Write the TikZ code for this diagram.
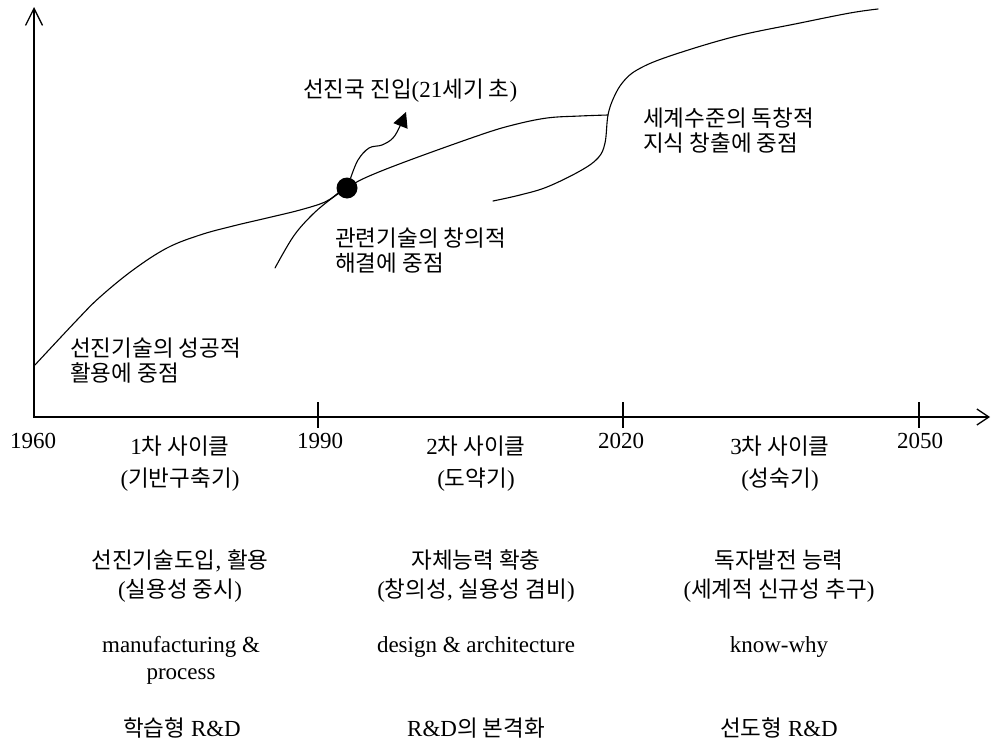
\documentclass[tikz,border=0pt]{standalone}
\usepackage{fontspec}
\setmainfont{Liberation Serif}
\newfontfamily\krfont{Noto Sans CJK KR}
\newcommand\hkr[1]{{\krfont\fontsize{22.5}{26}\selectfont #1}}
\usetikzlibrary{arrows.meta}
\begin{document}
\begin{tikzpicture}[x=1pt,y=-1pt,
  lbl/.style={inner sep=0pt, anchor=base, font=\fontsize{23}{27}\selectfont},
  klbl/.style={inner sep=0pt, anchor=base west, font=\fontsize{23}{27}\selectfont},
  axisline/.style={line width=1.3pt},
  curveline/.style={line width=1.1pt, line cap=round, line join=round},
  tickline/.style={line width=1.1pt}]
\useasboundingbox (0,0) rectangle (991,744);
% axes
\coordinate (O) at (34,417);
\coordinate (ytop) at (34,7);
\coordinate (xend) at (990,417);
\draw[axisline, {Straight Barb[length=17pt,width=17pt]}-{Straight Barb[length=12pt,width=16pt]}] (ytop) -- (O) -- (xend);
\foreach \x in {318,623,919} \draw[tickline] (\x,402) -- (\x,428);
% curves
\draw[curveline] plot[smooth, tension=0.6] coordinates {(34,366) (77,320) (100,297) (133,270) (167,248) (200,235) (233,226) (267,218) (300,210) (325,202) (338,193)};
\draw[curveline] plot[smooth, tension=0.6] coordinates {(275,268) (293,237) (310,217) (327,202) (347,188) (367,177) (410,160) (480,135) (513,125) (547,118) (580,116) (608,115)};
\draw[curveline] plot[smooth, tension=0.6] coordinates {(493,201) (520,195) (547,187) (580,171) (598,158) (605,143) (608,115) (614,97) (623,82) (637,70) (667,57) (733,37) (800,23) (850,13) (878,9)};
\node[circle, fill=black, minimum size=21pt, inner sep=0pt] (dot) at (347,188) {};
\draw[curveline, -{Triangle[length=15pt,width=15pt]}] plot[smooth, tension=0.6] coordinates {(dot.70) (358,160) (369,148) (382,145) (393,138) (400,126) (406,112)};
% upper labels
\node[klbl] (a1) at (70,356) {\hkr{선진기술의 성공적}};
\node[klbl] (a2) at (70,381) {\hkr{활용에 중점}};
\node[klbl] (b1) at (335,246) {\hkr{관련기술의 창의적}};
\node[klbl] (b2) at (335,271) {\hkr{해결에 중점}};
\node[klbl] (c0) at (303,97) {\hkr{선진국 진입}(21\hkr{세기 초})};
\node[klbl] (d1) at (643,126) {\hkr{세계수준의 독창적}};
\node[klbl] (d2) at (643,151) {\hkr{지식 창출에 중점}};
% years
\node[lbl] (y1960) at (33,448) {1960};
\node[lbl] (y1990) at (320,448) {1990};
\node[lbl] (y2020) at (621,448) {2020};
\node[lbl] (y2050) at (920,448) {2050};
% column 1
\node[lbl] (p1a) at (180,454) {1\hkr{차 사이클}};
\node[lbl] (p1b) at (180,486) {(\hkr{기반구축기})};
\node[lbl] (q1a) at (180,568) {\hkr{선진기술도입}, \hkr{활용}};
\node[lbl] (q1b) at (180,597) {(\hkr{실용성 중시})};
\node[lbl] (r1a) at (181,652) {manufacturing \&};
\node[lbl] (r1b) at (181,679) {process};
\node[lbl] (s1) at (182,736) {\hkr{학습형} R\&D};
% column 2
\node[lbl] (p2a) at (476,454) {2\hkr{차 사이클}};
\node[lbl] (p2b) at (476,486) {(\hkr{도약기})};
\node[lbl] (q2a) at (476,568) {\hkr{자체능력 확충}};
\node[lbl] (q2b) at (476,597) {(\hkr{창의성}, \hkr{실용성 겸비})};
\node[lbl] (r2a) at (476,652) {design \& architecture};
\node[lbl] (s2) at (476,736) {R\&D\hkr{의 본격화}};
% column 3
\node[lbl] (p3a) at (780,454) {3\hkr{차 사이클}};
\node[lbl] (p3b) at (780,486) {(\hkr{성숙기})};
\node[lbl] (q3a) at (779,568) {\hkr{독자발전 능력}};
\node[lbl] (q3b) at (779,597) {(\hkr{세계적 신규성 추구})};
\node[lbl] (r3a) at (779,652) {know-why};
\node[lbl] (s3) at (779,736) {\hkr{선도형} R\&D};
\end{tikzpicture}
\end{document}
